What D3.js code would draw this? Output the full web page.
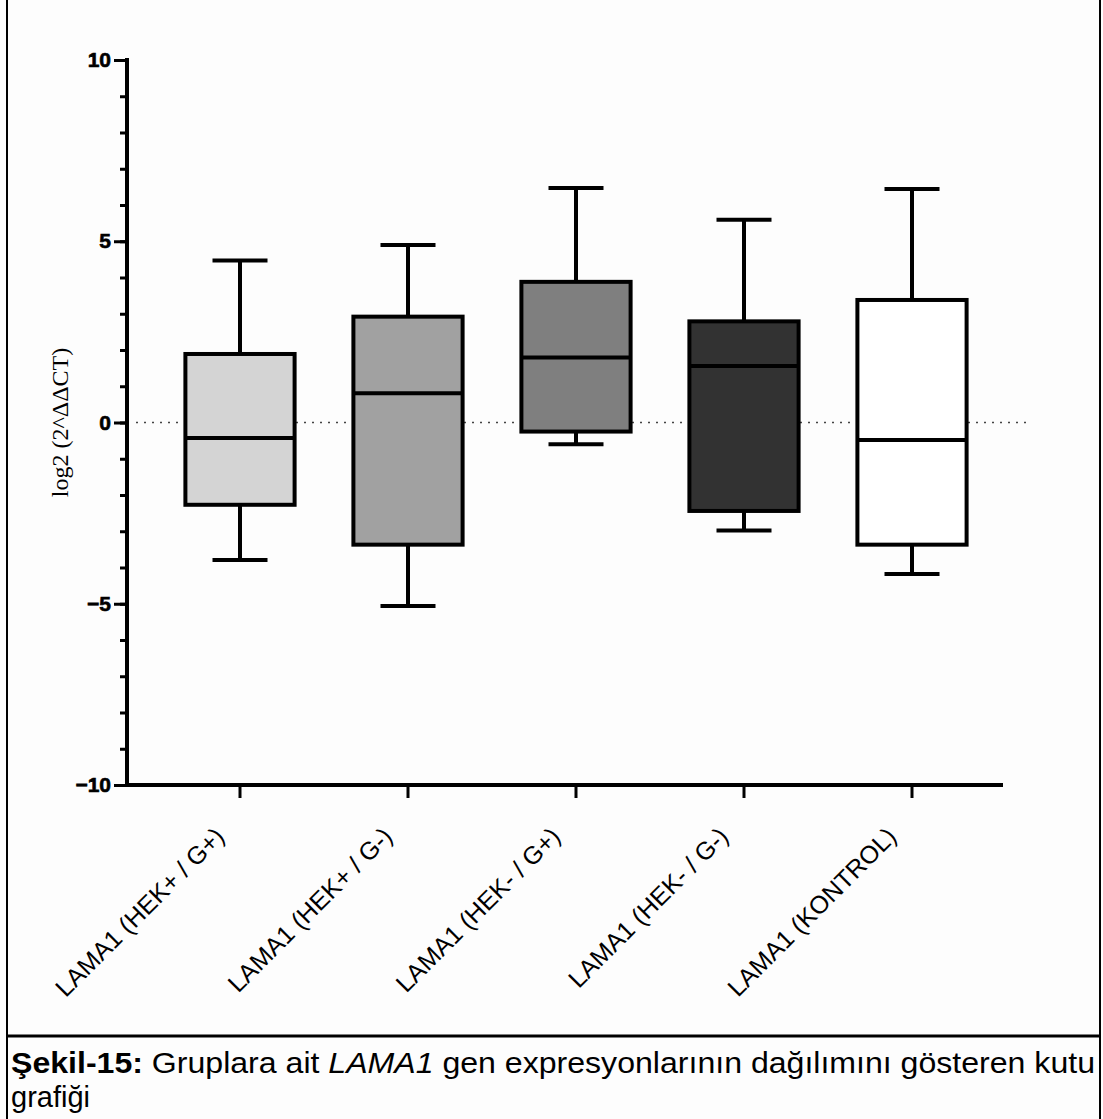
<!DOCTYPE html>
<html><head><meta charset="utf-8">
<script src="https://cdn.jsdelivr.net/npm/d3@7"></script>
<style>body{margin:0;background:#fff}svg{display:block}</style>
</head><body>
<script>
const categories = ["LAMA1 (HEK+ / G+)","LAMA1 (HEK+ / G-)","LAMA1 (HEK- / G+)","LAMA1 (HEK- / G-)","LAMA1 (KONTROL)"];
const whiskerLow = [-3.79,-5.06,-0.60,-2.98,-4.18];
const q1 = [-2.27,-3.37,-0.25,-2.44,-3.37];
const median = [-0.43,0.81,1.79,1.56,-0.48];
const q3 = [1.89,2.92,3.88,2.79,3.38];
const whiskerHigh = [4.47,4.90,6.47,5.59,6.44];
const fills = ["#d4d4d4","#a1a1a1","#7f7f7f","#323232","#ffffff"];
const yMajor = [-10,-5,0,5,10];
const yMinor = d3.range(-10,11,1);

const W=1103,H=1119;
const svg=d3.select("body").append("svg").attr("width",W).attr("height",H);
svg.append("rect").attr("width",W).attr("height",H).attr("fill","#fdfdfd");

const y=d3.scaleLinear().domain([-10,10]).range([785,60]);
const x=d3.scaleBand().domain(categories).range([156,996]).paddingInner(0.35).paddingOuter(0.175);
const cx=d=>x(d)+x.bandwidth()/2;

// zero dotted line
svg.append("line").attr("x1",136).attr("x2",1026).attr("y1",y(0)).attr("y2",y(0))
  .attr("stroke","#444").attr("stroke-width",1.6).attr("stroke-dasharray","2,6");

// boxes
const data=categories.map((c,i)=>({c,lo:whiskerLow[i],q1:q1[i],med:median[i],q3:q3[i],hi:whiskerHigh[i],fill:fills[i]}));
const g=svg.append("g").selectAll("g").data(data).join("g");
const capW=55;
g.append("line").attr("x1",d=>cx(d.c)).attr("x2",d=>cx(d.c)).attr("y1",d=>y(d.hi)).attr("y2",d=>y(d.q3)).attr("stroke","#000").attr("stroke-width",4);
g.append("line").attr("x1",d=>cx(d.c)).attr("x2",d=>cx(d.c)).attr("y1",d=>y(d.q1)).attr("y2",d=>y(d.lo)).attr("stroke","#000").attr("stroke-width",4);
g.append("line").attr("x1",d=>cx(d.c)-capW/2).attr("x2",d=>cx(d.c)+capW/2).attr("y1",d=>y(d.hi)).attr("y2",d=>y(d.hi)).attr("stroke","#000").attr("stroke-width",4);
g.append("line").attr("x1",d=>cx(d.c)-capW/2).attr("x2",d=>cx(d.c)+capW/2).attr("y1",d=>y(d.lo)).attr("y2",d=>y(d.lo)).attr("stroke","#000").attr("stroke-width",4);
g.append("rect").attr("x",d=>x(d.c)).attr("width",x.bandwidth()).attr("y",d=>y(d.q3)).attr("height",d=>y(d.q1)-y(d.q3))
  .attr("fill",d=>d.fill).attr("stroke","#000").attr("stroke-width",4);
g.append("line").attr("x1",d=>x(d.c)).attr("x2",d=>x(d.c)+x.bandwidth()).attr("y1",d=>y(d.med)).attr("y2",d=>y(d.med)).attr("stroke","#000").attr("stroke-width",4);

// y axis
const ya=svg.append("g").attr("transform","translate(127,0)");
ya.call(d3.axisLeft(y).tickValues(yMinor).tickSize(7).tickFormat(""));
ya.selectAll("line").attr("stroke","#000").attr("stroke-width",3);
ya.select(".domain").remove();
const yb=svg.append("g").attr("transform","translate(127,0)");
yb.call(d3.axisLeft(y).tickValues(yMajor).tickSize(13).tickPadding(3));
yb.selectAll("line").attr("stroke","#000").attr("stroke-width",3);
yb.select(".domain").remove();
yb.selectAll("text").attr("font-family","Liberation Sans, Arial, sans-serif").attr("font-weight","bold").attr("font-size",21).attr("fill","#000")
  .attr("stroke","#000").attr("stroke-width",0.6);
svg.append("line").attr("x1",127).attr("x2",127).attr("y1",y(10)-2).attr("y2",y(-10)+2).attr("stroke","#000").attr("stroke-width",4);

// x axis
const xa=svg.append("g").attr("transform","translate(0,785)");
xa.call(d3.axisBottom(x).tickSize(13).tickFormat(""));
xa.select(".domain").remove();
xa.selectAll("line").attr("stroke","#000").attr("stroke-width",3);
svg.append("g").selectAll("text").data(categories).join("text")
  .attr("transform",d=>`translate(${cx(d)-14},838) rotate(-45)`)
  .attr("text-anchor","end").attr("font-family","Liberation Sans, Arial, sans-serif").attr("font-size",25).attr("fill","#000")
  .text(d=>d);
svg.append("line").attr("x1",125).attr("x2",1003).attr("y1",785).attr("y2",785).attr("stroke","#000").attr("stroke-width",4);

// y label
svg.append("text").attr("transform",`translate(68,${y(0)}) rotate(-90)`).attr("text-anchor","middle")
  .attr("font-family","Liberation Serif, Times New Roman, serif").attr("font-size",24).attr("fill","#000")
  .text("log2 (2^ΔΔCT)");

// frame
svg.append("line").attr("x1",7).attr("x2",7).attr("y1",0).attr("y2",H).attr("stroke","#000").attr("stroke-width",2);
svg.append("line").attr("x1",1100).attr("x2",1100).attr("y1",0).attr("y2",H).attr("stroke","#000").attr("stroke-width",2);
svg.append("line").attr("x1",7).attr("x2",1100).attr("y1",1036).attr("y2",1036).attr("stroke","#000").attr("stroke-width",3);

// caption
const capFont="Liberation Sans, Arial, sans-serif";
const cap=svg.append("text").attr("x",11).attr("y",1073).attr("font-family",capFont).attr("font-size",29).attr("fill","#000")
  .attr("textLength",1084).attr("lengthAdjust","spacingAndGlyphs");
cap.append("tspan").attr("font-weight","bold").text("Şekil-15:");
cap.append("tspan").text(" Gruplara ait ");
cap.append("tspan").attr("font-style","italic").text("LAMA1");
cap.append("tspan").text(" gen expresyonlarının dağılımını gösteren kutu");
svg.append("text").attr("x",11).attr("y",1107).attr("font-family",capFont).attr("font-size",29).attr("fill","#000")
  .text("grafiği");
</script>
</body></html>
